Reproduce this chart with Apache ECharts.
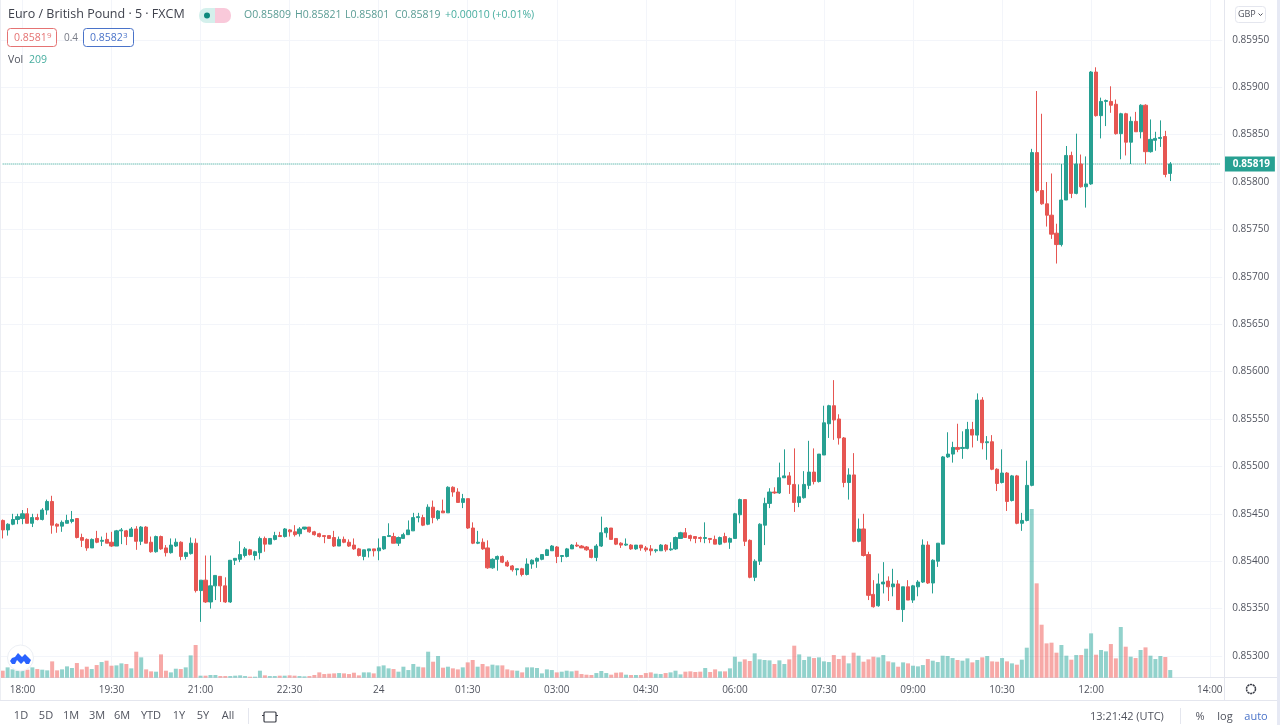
<!DOCTYPE html>
<html><head><meta charset="utf-8">
<script src="https://cdn.jsdelivr.net/npm/echarts@6/dist/echarts.min.js"></script>
<style>html,body{margin:0;padding:0;background:#fff}#c{width:1280px;height:725px}</style>
</head><body><div id="c"></div>
<script>
// Prices in pipettes (1e-5), starting with the 17:40 bar, 5 minutes apart
const opens = [85443,85433,85439,85444,
85445,85450,85440,85446,85444,85454,85463,85439,85437,85440,
85442,85445,85425,85423,85414,85424,85421,85423,85420,85416,
85432,85432,85426,85434,85421,85436,85420,85410,85426,85414,
85409,85416,85420,85405,85408,85419,85369,85380,85357,85374,
85384,85374,85357,85401,85402,85406,85412,85406,85409,85424,
85418,85423,85427,85426,85433,85431,85429,85434,85436,85431,
85429,85427,85427,85425,85416,85423,85420,85417,85413,85405,
85411,85413,85411,85413,85426,85426,85419,85424,85428,85432,
85446,85446,85439,85457,85445,85453,85451,85478,85473,85462,
85466,85435,85419,85420,85414,85393,85402,85405,85399,85395,
85391,85392,85386,85397,85400,85402,85406,85411,85415,85405,
85405,85413,85417,85416,85415,85412,85404,85416,85430,85435,
85424,85419,85417,85417,85413,85417,85414,85413,85411,85411,
85417,85412,85413,85424,85430,85427,85426,85425,85424,85424,
85423,85418,85426,85420,85424,85449,85465,85422,85383,85400,
85438,85461,85473,85472,85488,85490,85481,85462,85467,85480,
85494,85484,85512,85545,85564,85550,85530,85483,85491,85421,
85434,85407,85365,85353,85376,85379,85373,85376,85349,85373,
85359,85373,85378,85417,85377,85400,85418,85510,85513,85520,
85519,85519,85539,85533,85570,85525,85526,85497,85483,85493,
85464,85490,85440,85443,85480,85831,85791,85777,85765,85746,
85734,85781,85828,85788,85819,85795,85798,85916,85870,85885,
85885,85882,85851,85872,85842,85864,85853,85881,85832,85844,
85846,85848,85809];
const highs = [85444,85440,85450,85450,
85454,85456,85450,85450,85456,85465,85469,85440,85443,85449,
85453,85445,85429,85424,85424,85432,85426,85430,85431,85433,
85435,85433,85436,85437,85437,85437,85426,85427,85427,85417,
85424,85424,85421,85410,85425,85424,85380,85406,85406,85385,
85384,85383,85401,85403,85421,85415,85413,85411,85426,85426,
85424,85431,85431,85435,85434,85438,85436,85436,85436,85432,
85430,85427,85427,85432,85426,85426,85423,85424,85414,85412,
85413,85413,85424,85426,85440,85430,85426,85430,85443,85451,
85451,85449,85460,85464,85454,85465,85479,85479,85477,85471,
85466,85441,85432,85424,85422,85403,85406,85406,85401,85396,
85392,85393,85403,85402,85404,85407,85413,85417,85416,85406,
85414,85418,85420,85417,85416,85413,85418,85447,85436,85435,
85424,85420,85424,85418,85417,85417,85416,85417,85413,85418,
85418,85420,85426,85431,85435,85428,85426,85426,85441,85424,
85427,85426,85430,85425,85451,85466,85465,85423,85402,85440,
85467,85477,85478,85504,85518,85494,85519,85481,85495,85527,
85519,85513,85564,85565,85591,85555,85531,85498,85514,85445,
85450,85410,85380,85387,85399,85384,85392,85380,85373,85380,
85375,85380,85423,85421,85402,85419,85511,85536,85526,85545,
85537,85547,85547,85577,85573,85532,85533,85498,85518,85494,
85491,85491,85451,85506,85835,85896,85872,85800,85809,85756,
85819,85838,85832,85851,85829,85827,85917,85921,85889,85887,
85901,85887,85873,85873,85869,85874,85882,85882,85866,85853,
85865,85854,85821];
const lows = [85424,85427,85438,85439,
85439,85440,85436,85443,85443,85449,85429,85430,85431,85440,
85440,85424,85415,85411,85414,85419,85416,85419,85415,85416,
85418,85417,85426,85412,85417,85419,85409,85409,85412,85405,
85408,85415,85401,85402,85407,85367,85336,85356,85350,85359,
85357,85356,85356,85396,85399,85404,85406,85401,85402,85410,
85418,85422,85426,85425,85426,85426,85426,85433,85430,85427,
85425,85419,85424,85415,85416,85419,85415,85412,85405,85401,
85404,85405,85401,85412,85426,85419,85416,85424,85428,85432,
85441,85437,85438,85440,85443,85451,85451,85468,85462,85456,
85434,85418,85418,85412,85392,85392,85390,85398,85394,85389,
85385,85384,85385,85392,85393,85401,85406,85411,85398,85399,
85404,85413,85415,85414,85411,85403,85400,85415,85425,85423,
85417,85414,85416,85412,85412,85411,85410,85406,85409,85411,
85410,85411,85412,85424,85425,85421,85419,85420,85419,85419,
85418,85417,85419,85413,85424,85440,85416,85382,85379,85396,
85417,85456,85471,85471,85488,85471,85452,85457,85466,85476,
85481,85483,85512,85530,85528,85523,85478,85465,85420,85420,
85405,85359,85351,85352,85366,85358,85363,85349,85336,85359,
85356,85363,85377,85376,85366,85394,85418,85509,85504,85515,
85508,85518,85520,85527,85518,85507,85496,85474,85482,85453,
85463,85439,85432,85442,85479,85789,85776,85753,85740,85714,
85732,85781,85783,85787,85794,85773,85797,85869,85846,85859,
85873,85850,85824,85828,85819,85853,85846,85819,85831,85833,
85837,85805,85801];
const closes = [85433,85439,85444,85447,
85450,85440,85446,85444,85454,85463,85438,85437,85441,85443,
85444,85425,85422,85414,85423,85420,85422,85419,85416,85432,
85433,85426,85434,85421,85436,85419,85410,85426,85413,85409,
85417,85420,85405,85409,85419,85369,85380,85357,85374,85385,
85374,85357,85401,85403,85407,85413,85407,85410,85424,85418,
85424,85427,85426,85434,85431,85428,85434,85436,85431,85428,
85426,85426,85424,85416,85423,85420,85416,85413,85406,85412,
85413,85411,85414,85426,85427,85419,85425,85428,85433,85446,
85447,85438,85457,85446,85453,85451,85478,85473,85462,85466,
85435,85419,85420,85413,85393,85402,85405,85399,85395,85391,
85392,85386,85397,85401,85403,85407,85412,85416,85405,85406,
85413,85417,85416,85414,85412,85404,85416,85430,85435,85423,
85418,85417,85418,85413,85417,85414,85412,85411,85412,85417,
85412,85413,85425,85430,85425,85424,85424,85424,85425,85423,
85418,85425,85420,85424,85450,85465,85421,85383,85400,85439,
85461,85473,85472,85488,85490,85481,85462,85468,85481,85494,
85484,85513,85546,85564,85549,85530,85483,85491,85421,85434,
85406,85364,85352,85376,85378,85373,85376,85349,85373,85359,
85374,85378,85417,85377,85401,85419,85510,85513,85520,85518,
85520,85539,85533,85570,85525,85526,85497,85482,85493,85463,
85490,85440,85443,85480,85831,85791,85777,85765,85745,85734,
85781,85828,85788,85819,85795,85798,85916,85870,85885,85886,
85881,85851,85872,85842,85864,85853,85881,85832,85845,85846,
85847,85808,85819];
const volumes = [191,282,227,191,
209,218,282,236,218,200,445,200,227,309,
264,400,227,300,236,345,427,464,327,336,
391,373,255,709,555,227,173,164,636,191,
145,245,236,282,609,891,55,55,73,73,
45,45,45,55,64,45,27,27,191,64,
45,45,55,55,64,55,45,36,45,73,
145,100,109,118,127,118,100,136,64,145,
145,118,309,336,255,236,164,300,209,373,
300,282,709,436,591,273,300,255,227,282,
418,482,300,373,309,355,336,336,227,200,
191,145,282,282,264,118,227,209,145,164,
191,173,191,100,82,73,127,182,127,82,
136,145,82,73,73,73,127,145,109,100,
127,145,191,91,164,173,155,164,264,155,
227,173,173,255,573,436,500,455,664,500,
482,473,373,473,373,500,873,636,482,573,
536,555,445,427,618,509,600,391,682,600,
436,500,573,555,618,445,418,300,418,391,
327,309,345,509,464,427,600,591,536,482,
464,527,418,482,555,591,445,436,536,445,
391,355,491,818,4600,2573,1445,936,955,682,
891,600,491,618,618,791,1209,627,755,718,
918,527,1382,845,573,536,755,827,600,509,
591,564,209];
const tickLabels = ['18:00','19:30','21:00','22:30','24','01:30','03:00','04:30','06:00','07:30','09:00','10:30','12:00','14:00'];
const slotCount = 247, startMinute = 17*60+40;
const categories = Array.from({length: slotCount}, (_, k) => {
  const m = (startMinute + 5*k) % 1440;
  if (m === 0) return '24';
  return String(Math.floor(m/60)).padStart(2,'0') + ':' + String(m%60).padStart(2,'0');
});

const UP = '#27a092', DOWN = '#e65652', UPV = 'rgba(38,166,154,.5)', DOWNV = 'rgba(239,83,80,.5)';
const GRID = '#f3f5fa', LINE = '#e4e6ee', TXT = '#50535e', FONT = '"Open Sans","Noto Sans",sans-serif';
const show = (i) => tickLabels.includes(categories[i]);
const candle = opens.map((o,i) => [o/1e5, closes[i]/1e5, lows[i]/1e5, highs[i]/1e5]);
const vols = volumes.map((v,i) => ({value: v, itemStyle: {color: closes[i] >= opens[i] ? UPV : DOWNV}}));
const last = closes[closes.length-1]/1e5;

const t = (x,y,text,o={}) => ({type:'text',x,y,silent:true,z:50,style:Object.assign({text,fill:TXT,font:`${o.size||10}px ${FONT}`,textAlign:o.align||'left',textVerticalAlign:'middle'},o.fill?{fill:o.fill}:{})});
const ln = (x1,y1,x2,y2,c=LINE) => ({type:'line',silent:true,z:40,shape:{x1,y1,x2,y2},style:{stroke:c,lineWidth:1}});
const box = (x,y,w,h,c,r=3,fill='#fff') => ({type:'rect',silent:true,z:45,shape:{x,y,width:w,height:h,r},style:{fill,stroke:c,lineWidth:1}});

const ranges = [['1D',21],['5D',46],['1M',71],['3M',97],['6M',122],['YTD',151],['1Y',179],['5Y',203],['All',228]];
const graphics = [
  {type:'rect',silent:true,z:39,shape:{x:1277,y:0,width:3,height:725},style:{fill:'#e6e9f4'}},
  ln(0.5,0,0.5,700,'#eceef3'), ln(1224.5,0,1224.5,700), ln(1222,677.5,1277,677.5), ln(0,700.5,1277,700.5),
  ln(248.5,708,248.5,724), ln(1180.5,708,1180.5,724),
  t(8,14.5,'Euro / British Pound · 5 · FXCM',{size:12.5,fill:'#3f424d'}),
  {type:'rect',silent:true,z:45,shape:{x:199,y:8,width:16,height:15,r:[7,0,0,7]},style:{fill:'#d4f0ec'}},
  {type:'rect',silent:true,z:45,shape:{x:215,y:8,width:16,height:15,r:[0,7,7,0]},style:{fill:'#f9c9da'}},
  {type:'circle',silent:true,z:46,shape:{cx:207,cy:15.5,r:3},style:{fill:'#0f8a7d'}},
  ln(219,13.5,226,13.5,'#d8307c'), ln(219,16.5,226,16.5,'#d8307c'),
  t(244,15.5,'O0.85809',{size:10.5,fill:'#5a9c94'}), t(295,15.5,'H0.85821',{size:10.5,fill:'#5a9c94'}),
  t(345,15.5,'L0.85801',{size:10.5,fill:'#5a9c94'}), t(395,15.5,'C0.85819',{size:10.5,fill:'#5a9c94'}),
  t(445,15.5,'+0.00010 (+0.01%)',{size:10.5,fill:'#46ad9f'}),
  box(7.5,28.5,49,18,'#e57373'), t(14,38,'0.8581',{size:10.5,fill:'#e57373'}), t(47,36,'9',{size:8,fill:'#e57373'}),
  t(64,38,'0.4',{size:10,fill:'#777a85'}),
  box(83.5,28.5,50,18,'#4a73c9'), t(90,38,'0.8582',{size:10.5,fill:'#4a73c9'}), t(123,36,'3',{size:8,fill:'#4a73c9'}),
  t(8,60.5,'Vol',{size:10.5,fill:'#50535e'}), t(29,60.5,'209',{size:10.5,fill:'#46ad9f'}),
  box(1235.5,6.5,30,16,'#e4e6ee',3), t(1238,14.5,'GBP',{size:9,fill:'#50535e'}),
  {type:'polyline',silent:true,z:50,shape:{points:[[1258.5,13.5],[1260.5,15.5],[1262.5,13.5]]},style:{fill:'none',stroke:'#50535e',lineWidth:1}},
  {type:'circle',silent:true,z:45,shape:{cx:20.5,cy:658,r:13},style:{fill:'#fff',stroke:'#edf0f5'}},
  {type:'polygon',silent:true,z:46,shape:{points:[[12,664],[10,661],[12,658],[15,657],[18,653],[22,657],[25,654],[28,657],[31,660],[29,664],[26,664],[24,661],[21,664],[17,660],[15,664]]},style:{fill:'#2962ff'}},
  {type:'circle',silent:true,z:45,shape:{cx:1251,cy:689,r:4.5},style:{fill:'#fff',stroke:'#3a3d47',lineWidth:1.5,lineDash:[2.2,0.6]}},
  {type:'rect',silent:true,z:45,shape:{x:264,y:712,width:12,height:10,r:1},style:{fill:'#fff',stroke:'#3a3d47',lineWidth:1.2}},
  ln(262,715.5,278,715.5,'#3a3d47'),
  t(1090,717,'13:21:42 (UTC)',{size:11,fill:'#50535e'}),
  t(1200,717,'%',{size:11,align:'center',fill:'#50535e'}),
  t(1225,717,'log',{size:11,align:'center',fill:'#50535e'}),
  t(1256,717,'auto',{size:11,align:'center',fill:'#4a73c9'})
].concat(ranges.map(r => t(r[1],716,r[0],{size:11,align:'center',fill:'#50535e'})));

const chart = echarts.init(document.getElementById('c'), null, {renderer:'canvas'});
chart.setOption({
  animation:false, backgroundColor:'#fff', textStyle:{fontFamily:FONT},
  grid:[
    {left:0.2, top:0, width:1222, height:656},
    {left:0.2, top:0, width:1222, height:677.7}
  ],
  xAxis:[
    {type:'category',gridIndex:0,data:categories,show:false},
    {type:'category',gridIndex:1,data:categories,
      axisLine:{show:true,lineStyle:{color:LINE}},axisTick:{show:false},
      axisLabel:{interval:show,color:TXT,fontSize:10,margin:7,fontFamily:FONT,hideOverlap:false},
      splitLine:{show:true,interval:show,alignWithLabel:true,lineStyle:{color:GRID,width:1}}}
  ],
  yAxis:[
    {type:'value',gridIndex:0,position:'right',offset:2,min:0.853,max:0.85992,interval:0.0005,scale:true,
      axisLine:{show:false},axisTick:{show:false},
      axisLabel:{color:TXT,fontSize:10,margin:8,fontFamily:FONT,showMaxLabel:false,padding:[2,0,0,0],formatter:v=>v.toFixed(5)},
      splitLine:{show:true,showMaxLine:false,lineStyle:{color:GRID,width:1}}},
    {type:'value',gridIndex:1,min:0,max:18480,show:false,splitLine:{show:false}}
  ],
  series:[
    {type:'bar',name:'Vol',xAxisIndex:1,yAxisIndex:1,data:vols,barWidth:4,z:1},
    {type:'candlestick',name:'EUR/GBP',xAxisIndex:0,yAxisIndex:0,data:candle,barWidth:3.6,z:5,
      itemStyle:{color:UP,color0:DOWN,borderColor:UP,borderColor0:DOWN,borderWidth:1}},
    {type:'line',name:'Last price',xAxisIndex:0,yAxisIndex:0,data:categories.map(()=>last),
      symbol:'none',silent:true,z:4,lineStyle:{color:UP,type:'dotted',width:1},
      endLabel:{show:true,distance:5,formatter:()=>last.toFixed(5),color:'#fff',fontSize:10,fontWeight:'bold',
        backgroundColor:UP,padding:[3,5,2,8],fontFamily:FONT}}
  ],
  graphic:graphics
});
</script></body></html>
